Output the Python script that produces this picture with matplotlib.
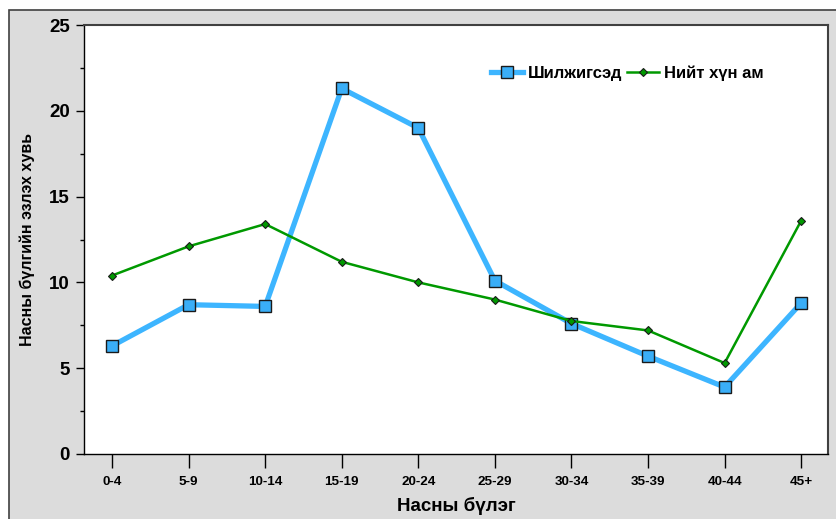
import matplotlib.pyplot as plt
from matplotlib.patches import Rectangle

plt.rcParams['font.family'] = ['Liberation Sans', 'DejaVu Sans']

# Data
age_groups = ['0-4', '5-9', '10-14', '15-19', '20-24', '25-29', '30-34', '35-39', '40-44', '45+']
migrants = [6.3, 8.7, 8.6, 21.3, 19.0, 10.1, 7.6, 5.7, 3.9, 8.8]
total_pop = [10.4, 12.1, 13.4, 11.2, 10.0, 9.0, 7.75, 7.2, 5.3, 13.6]

W, H = 836, 519
fig = plt.figure(figsize=(W / 100, H / 100), dpi=100)
fig.patch.set_facecolor('white')

# grey frame behind the chart
bg = Rectangle((9 / W, -0.01), 1.0, 1 - 10 / H + 0.01, transform=fig.transFigure,
               facecolor='#dcdcdc', edgecolor='#404040', lw=1.2, zorder=-10)
fig.add_artist(bg)

ax = fig.add_axes([84 / W, 1 - 454 / H, (828 - 84) / W, (454 - 25) / H])
ax.set_facecolor('white')

x = list(range(len(age_groups)))
ax.plot(x, migrants, color='#3db5ff', lw=3.8, marker='s', ms=9,
        mfc='#3aaef7', mec='#1a1a1a', mew=1.0, label='Шилжигсэд', zorder=3)
ax.plot(x, total_pop, color='#009900', lw=1.8, marker='D', ms=4.5,
        mfc='#009900', mec='#1a1a1a', mew=0.8, label='Нийт хүн ам', zorder=4)

ax.set_xlim(-0.366, 9.35)
ax.set_ylim(0, 25)
ax.set_yticks([0, 5, 10, 15, 20, 25])
ax.set_yticks([2.5, 7.5, 12.5, 17.5, 22.5], minor=True)
ax.set_xticks(x)
ax.set_xticklabels(age_groups, fontsize=9.7, fontweight='bold')
for lbl in ax.get_yticklabels():
    lbl.set_fontsize(13.5)
    lbl.set_fontweight('bold')

ax.tick_params(axis='y', which='major', direction='out', length=6, width=1, pad=4)
ax.tick_params(axis='y', which='minor', direction='out', length=3, width=1)
ax.tick_params(axis='x', direction='out', length=10, width=1, pad=6)

for side in ['top', 'right']:
    ax.spines[side].set_color('#404040')
    ax.spines[side].set_linewidth(1.5)
for side in ['left', 'bottom']:
    ax.spines[side].set_color('black')
    ax.spines[side].set_linewidth(1.0)

ax.set_ylabel('Насны бүлгийн эзлэх хувь', fontsize=11.5, fontweight='bold', labelpad=10)
ax.set_xlabel('Насны бүлэг', fontsize=13.5, fontweight='bold', labelpad=6)

ax.legend(loc='upper left', bbox_to_anchor=(0.527, 0.94), ncol=2, frameon=False,
          prop={'weight': 'bold', 'size': 12}, handlelength=1.9,
          handletextpad=0.3, columnspacing=0.3)

fig.savefig('out.png', dpi=100)
